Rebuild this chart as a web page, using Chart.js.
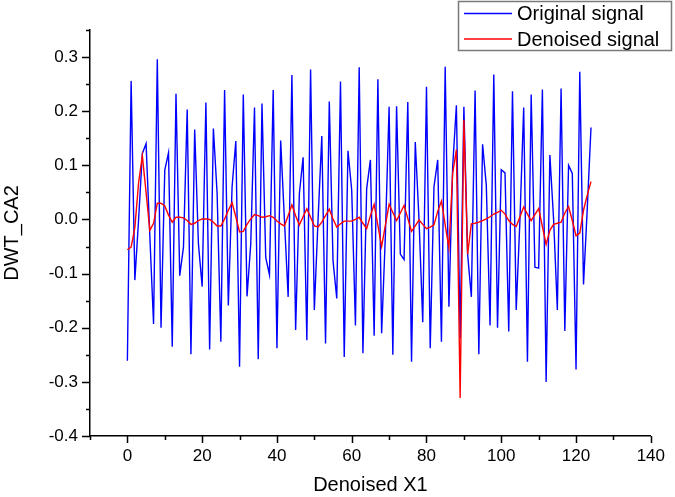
<!DOCTYPE html>
<html>
<head>
<meta charset="utf-8">
<script src="https://cdn.jsdelivr.net/npm/chart.js@4.4.1/dist/chart.umd.min.js"></script>
<style>
  html, body { margin: 0; padding: 0; background: #fff; }
  #wrap { width: 675px; height: 497px; }
</style>
</head>
<body>
<div id="wrap"><canvas id="chartDwt" width="675" height="497"></canvas></div>
<script>
// DWT approximation coefficients, level 2
const originalSignal = [
    -0.261, 0.256, -0.112, 0.0, 0.122, 0.14, -0.03, -0.193, 0.296, -0.2,
    0.091, 0.123, -0.235, 0.232, -0.104, -0.051, 0.203, -0.249, 0.166, -0.045,
    -0.124, 0.216, -0.24, 0.168, 0.048, -0.226, 0.239, -0.159, 0.06, 0.145,
    -0.272, 0.231, -0.142, -0.045, 0.207, -0.258, 0.214, -0.07, -0.102, 0.239,
    -0.238, 0.146, 0.0, -0.143, 0.267, -0.204, 0.048, 0.115, -0.223, 0.277,
    -0.167, 0.0, 0.154, -0.229, 0.218, -0.076, -0.146, 0.255, -0.254, 0.127,
    0.054, -0.196, 0.281, -0.247, 0.057, 0.11, -0.215, 0.259, -0.21, -0.03,
    0.208, -0.25, 0.209, -0.064, -0.074, 0.217, -0.263, 0.143, 0.0, -0.19,
    0.245, -0.238, 0.06, 0.11, -0.226, 0.282, -0.161, 0.097, 0.211, -0.22,
    0.208, -0.064, -0.143, 0.238, -0.249, 0.139, 0.063, -0.196, 0.268, -0.2,
    0.092, 0.086, -0.207, 0.237, -0.167, 0.0, 0.207, -0.263, 0.231, -0.088,
    -0.09, 0.24, -0.3, 0.119, 0.0, -0.167, 0.242, -0.206, 0.1, 0.085,
    -0.277, 0.273, -0.12, 0.02, 0.17
];

const denoisedSignal = [
    -0.056, -0.051, -0.015, 0.068, 0.118, 0.05, -0.02, -0.007, 0.03, 0.03,
    0.025, 0.008, -0.005, 0.004, 0.004, 0.003, -0.002, -0.009, -0.007, -0.002,
    0.001, 0.001, 0.0, -0.005, -0.012, -0.012, 0.001, 0.017, 0.031, 0.005,
    -0.023, -0.022, -0.009, 0.001, 0.009, 0.007, 0.004, 0.005, 0.007, 0.004,
    -0.003, -0.008, -0.012, 0.007, 0.027, 0.007, -0.01, 0.005, 0.02, 0.004,
    -0.012, -0.014, -0.005, 0.007, 0.019, 0.001, -0.014, -0.008, -0.003, -0.003,
    -0.003, 0.0, 0.004, -0.007, -0.017, 0.007, 0.028, -0.011, -0.05, -0.011,
    0.028, 0.013, -0.002, 0.012, 0.026, 0.002, -0.022, -0.012, -0.001, -0.009,
    -0.017, -0.014, -0.01, 0.015, 0.034, -0.01, -0.053, 0.085, 0.129, -0.33,
    0.184, -0.064, -0.008, -0.007, -0.005, -0.002, 0.001, 0.005, 0.01, 0.013,
    0.017, 0.01, -0.002, -0.009, -0.013, 0.005, 0.023, 0.01, -0.002, 0.009,
    0.02, -0.013, -0.046, -0.02, -0.009, -0.007, -0.005, 0.012, 0.024, -0.002,
    -0.03, -0.025, 0.017, 0.045, 0.07
];

// sample index on the x axis
const sampleIdx = Array.from({ length: originalSignal.length }, (_, i) => i);

const xMajorTicks = [0, 20, 40, 60, 80, 100, 120, 140];
const xMinorTicks = [-10, 10, 30, 50, 70, 90, 110, 130];
const yMajorTicks = [-0.4, -0.3, -0.2, -0.1, 0.0, 0.1, 0.2, 0.3];
const yMinorTicks = [-0.35, -0.25, -0.15, -0.05, 0.05, 0.15, 0.25, 0.35];

const FONT = "'Liberation Sans', Arial, sans-serif";
Chart.defaults.font.family = FONT;
Chart.defaults.color = '#000';

// Origin style tick marks: outward, major + minor
const originTicks = {
    id: 'originTicks',
    afterDraw(chart) {
        const ctx = chart.ctx;
        const xs = chart.scales.x;
        const ys = chart.scales.y;
        const x0 = chart.chartArea.left;
        const y0 = chart.chartArea.bottom;
        ctx.save();
        ctx.strokeStyle = '#000';
        ctx.lineWidth = 1.5;
        ctx.beginPath();
        yMajorTicks.forEach(v => {
            const p = Math.round(ys.getPixelForValue(v)) + 0.5;
            ctx.moveTo(x0 - 8, p); ctx.lineTo(x0, p);
        });
        yMinorTicks.forEach(v => {
            const p = Math.round(ys.getPixelForValue(v)) + 0.5;
            ctx.moveTo(x0 - 4, p); ctx.lineTo(x0, p);
        });
        xMajorTicks.forEach(v => {
            const p = Math.round(xs.getPixelForValue(v)) + 0.5;
            ctx.moveTo(p, y0); ctx.lineTo(p, y0 + 7);
        });
        xMinorTicks.forEach(v => {
            const p = Math.round(xs.getPixelForValue(v)) + 0.5;
            ctx.moveTo(p, y0); ctx.lineTo(p, y0 + 4);
        });
        ctx.stroke();
        ctx.restore();
    }
};

// boxed legend in the top right corner
const boxLegend = {
    id: 'boxLegend',
    afterDraw(chart) {
        const ctx = chart.ctx;
        ctx.save();
        ctx.fillStyle = '#fff';
        ctx.fillRect(458, 1, 214, 50);
        ctx.strokeStyle = '#7a7a7a';
        ctx.lineWidth = 1.5;
        ctx.strokeRect(458.5, 1.5, 213, 49);
        ctx.font = '20px ' + FONT;
        ctx.textBaseline = 'middle';
        ctx.textAlign = 'left';
        chart.data.datasets.forEach((ds, i) => {
            const y = 13.5 + i * 25.5;
            ctx.strokeStyle = ds.borderColor;
            ctx.lineWidth = 1.4;
            ctx.beginPath();
            ctx.moveTo(464, y);
            ctx.lineTo(512, y);
            ctx.stroke();
            ctx.fillStyle = '#000';
            ctx.fillText(ds.label, 517, y + 1);
        });
        ctx.restore();
    }
};

const ctxDwt = document.getElementById('chartDwt').getContext('2d');
new Chart(ctxDwt, {
    type: 'line',
    data: {
        labels: sampleIdx,
        datasets: [
            {
                label: 'Original signal',
                data: originalSignal,
                borderColor: '#0000ff',
                borderWidth: 1.4,
                pointRadius: 0,
                tension: 0,
                fill: false,
                order: 2
            },
            {
                label: 'Denoised signal',
                data: denoisedSignal,
                borderColor: '#ff0000',
                borderWidth: 1.4,
                pointRadius: 0,
                tension: 0,
                fill: false,
                order: 1
            }
        ]
    },
    options: {
        responsive: false,
        animation: false,
        events: [],
        layout: { padding: { top: 30, right: 15, left: 0, bottom: 0 } },
        plugins: {
            legend: { display: false },
            tooltip: { enabled: false }
        },
        scales: {
            x: {
                type: 'linear',
                min: -10,
                max: 140,
                afterBuildTicks: scale => { scale.ticks = xMajorTicks.map(v => ({ value: v })); },
                afterFit: scale => { scale.height = 61; },
                grid: { display: false, drawTicks: false },
                border: { display: true, color: '#000', width: 1.5 },
                ticks: {
                    autoSkip: false,
                    maxRotation: 0,
                    padding: 10,
                    font: { size: 17 },
                    callback: v => String(v)
                },
                title: {
                    display: true,
                    text: 'Denoised X1',
                    font: { size: 20 },
                    padding: { top: 0, bottom: 0 }
                }
            },
            y: {
                min: -0.4,
                max: 0.35,
                afterBuildTicks: scale => { scale.ticks = yMajorTicks.map(v => ({ value: v })); },
                afterFit: scale => { scale.width = 90; },
                grid: { display: false, drawTicks: false },
                border: { display: true, color: '#000', width: 1.5 },
                ticks: {
                    autoSkip: false,
                    padding: 12,
                    font: { size: 17 },
                    callback: v => v.toFixed(1)
                },
                title: {
                    display: true,
                    text: 'DWT_CA2',
                    font: { size: 20 },
                    padding: { top: 0, bottom: 0 }
                }
            }
        }
    },
    plugins: [originTicks, boxLegend]
});
</script>
</body>
</html>
